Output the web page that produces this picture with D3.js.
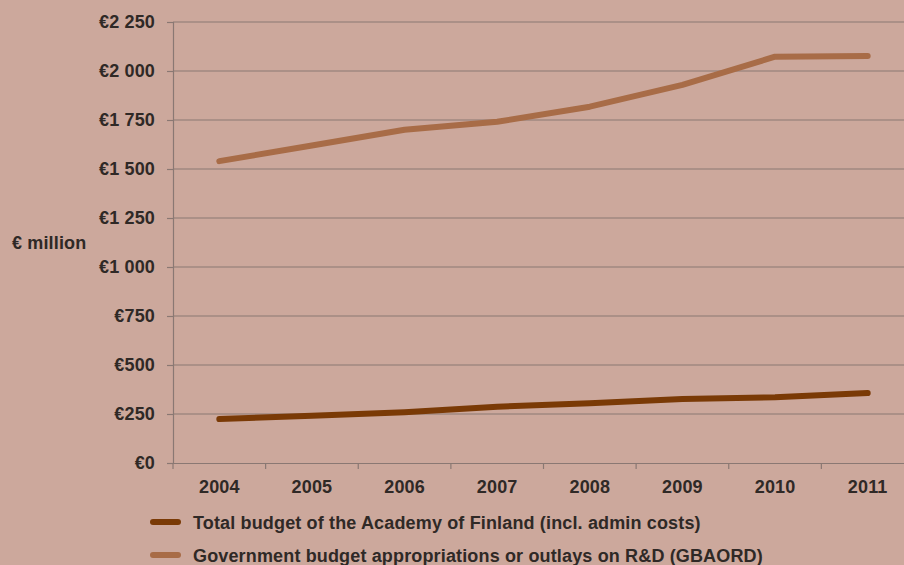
<!DOCTYPE html>
<html>
<head>
<meta charset="utf-8">
<script src="https://cdn.jsdelivr.net/npm/d3@7"></script>
<style>
  html, body { margin: 0; padding: 0; background: #cca89c; }
  svg { display: block; }
  text { font-family: "Liberation Sans", Arial, sans-serif; font-weight: bold; fill: #2f2926; letter-spacing: 0.15px; }
</style>
</head>
<body>
<svg id="chart" width="904" height="565"></svg>
<script>
// Funding figures, € million
const years = ["2004", "2005", "2006", "2007", "2008", "2009", "2010", "2011"];
const academyBudget = [224, 241, 259, 287, 305, 326, 335, 357];
const gbaord = [1540, 1620, 1700, 1741, 1818, 1929, 2073, 2077];
const yTicks = [0, 250, 500, 750, 1000, 1250, 1500, 1750, 2000, 2250];
const seriesNames = [
  "Total budget of the Academy of Finland (incl. admin costs)",
  "Government budget appropriations or outlays on R&D (GBAORD)"
];
const seriesColors = ["#7a3a06", "#a86c47"];

const svg = d3.select("#chart");
const margin = { left: 173, top: 22, bottom: 463 };
const plotRight = 914;
const fontSize = "18px";

const x = d3.scaleBand().domain(years).range([margin.left, plotRight]);
const y = d3.scaleLinear().domain([0, 2250]).range([margin.bottom, margin.top]);

const gridColor = "#8a7873";

// Horizontal gridlines
svg.append("g")
  .selectAll("line")
  .data(yTicks.filter(d => d > 0))
  .join("line")
  .attr("x1", margin.left).attr("x2", plotRight)
  .attr("y1", d => y(d)).attr("y2", d => y(d))
  .attr("stroke", gridColor).attr("stroke-width", 1.2);

// Format with a space as thousands separator
const fmt = d => "€" + d3.format(",")(d).replace(/,/g, " ");

// Y axis
const yAxis = svg.append("g")
  .attr("transform", `translate(${margin.left},0)`)
  .call(d3.axisLeft(y).tickValues(yTicks).tickFormat(fmt).tickSize(6).tickPadding(12));
yAxis.select(".domain").attr("stroke", gridColor).attr("stroke-width", 1.2);
yAxis.selectAll(".tick line").attr("stroke", gridColor).attr("stroke-width", 1.2);
yAxis.selectAll(".tick text").style("font-size", fontSize).attr("fill", "#2f2926");

// X axis with ticks at category boundaries
const xAxis = svg.append("g")
  .attr("transform", `translate(0,${margin.bottom})`)
  .call(d3.axisBottom(x).tickSize(0).tickPadding(17));
xAxis.select(".domain").attr("stroke", gridColor).attr("stroke-width", 1.2);
xAxis.selectAll(".tick text").style("font-size", fontSize).attr("fill", "#2f2926");
xAxis.selectAll(".boundary")
  .data(years)
  .join("line")
  .attr("class", "boundary")
  .attr("x1", d => x(d)).attr("x2", d => x(d))
  .attr("y1", 0).attr("y2", 6)
  .attr("stroke", gridColor).attr("stroke-width", 1.2);

// Axis title
svg.append("text")
  .attr("x", 12).attr("y", 249)
  .style("font-size", fontSize)
  .text("€ million");

// Lines
const line = d3.line()
  .x((d, i) => x(years[i]) + x.bandwidth() / 2)
  .y(d => y(d));

[academyBudget, gbaord].forEach((vals, i) => {
  svg.append("path")
    .datum(vals)
    .attr("d", line)
    .attr("fill", "none")
    .attr("stroke", seriesColors[i])
    .attr("stroke-width", 6)
    .attr("stroke-linecap", "round")
    .attr("stroke-linejoin", "round");
});

// Legend
const legend = svg.append("g");
seriesNames.forEach((name, i) => {
  const ly = 522 + i * 33;
  legend.append("line")
    .attr("x1", 153).attr("x2", 178)
    .attr("y1", ly).attr("y2", ly)
    .attr("stroke", seriesColors[i])
    .attr("stroke-width", 6)
    .attr("stroke-linecap", "round");
  legend.append("text")
    .attr("x", 193).attr("y", ly + 6.5)
    .style("font-size", fontSize)
    .text(name);
});
</script>
</body>
</html>
